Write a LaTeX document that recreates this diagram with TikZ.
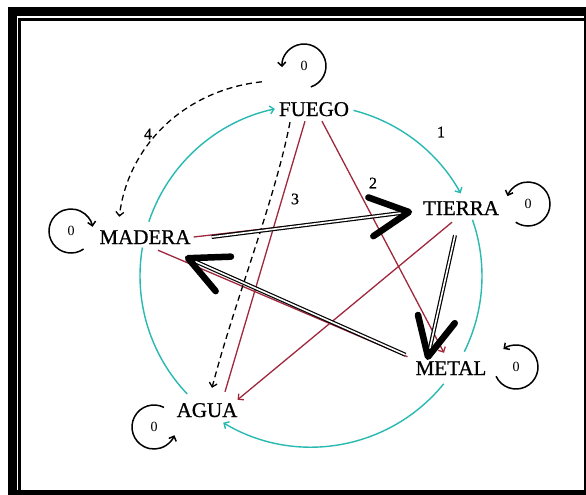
\documentclass[tikz,border=0pt]{standalone}
\usepackage{fontspec}
\setmainfont{Liberation Serif}
\newfontfamily\elemfont{Liberation Serif}[FakeBold=0.8]
\usetikzlibrary{arrows.meta,calc}
\definecolor{cy}{RGB}{40,185,178}
\definecolor{rd}{RGB}{160,40,60}
\begin{document}
\begin{tikzpicture}[x=1pt,y=-1pt,
  elem/.style={font=\elemfont\fontsize{21}{21}\selectfont, inner sep=0pt, text height=14pt, text depth=0pt},
  num/.style={font=\elemfont\fontsize{16}{16}\selectfont, inner sep=0pt},
  zero/.style={font=\fontsize{14}{14}\selectfont, inner sep=0pt},
  tip/.style={-{Straight Barb[length=4pt,width=8pt]}},
  cyl/.style={draw=cy, line width=1.4pt},
  redl/.style={draw=rd, line width=1.3pt},
  dsh/.style={draw=black, line width=1.3pt, dash pattern=on 6pt off 4pt},
  dbl/.style={draw=black, double=white, double distance=1.6pt, line width=1.2pt},
  chev/.style={draw=black, line width=6.5pt, line cap=round, line join=round},
  loopl/.style={draw=black, line width=1.5pt},
]
\useasboundingbox (0,0) rectangle (586,495);
% frame
\fill[black] (8,7) rectangle (586,495);
\fill[white] (17,16) rectangle (584,490);
\fill[black] (18.3,18.3) rectangle (584,490);
\fill[white] (20.7,20.7) rectangle (584,490);

% element nodes
\node[elem] (fuego) at (314,109) {FUEGO};
\node[elem] (tierra) at (461,208) {TIERRA};
\node[elem] (madera) at (145,237) {MADERA};
\node[elem] (metal) at (451,368) {METAL};
\node[elem] (agua) at (207,410) {AGUA};
\coordinate (C) at (311,276);

% loop labels
\node[zero] (l0f) at (304,66) {0};
\node[zero] (l0t) at (528,204) {0};
\node[zero] (l0m) at (71,231) {0};
\node[zero] (l0e) at (516,367) {0};
\node[zero] (l0a) at (154,427) {0};

% number labels
\node[num] (n1) at (441,132) {1};
\node[num] (n2) at (373,183) {2};
\node[num] (n3) at (295,199) {3};
\node[num] (n4) at (148,134) {4};

% cyan generating circle
\draw[cyl,tip] ([shift={(198.5:171)}]C) arc[start angle=198.5,end angle=257.8,radius=171];
\draw[cyl,tip] ([shift={(-75.6:171)}]C) arc[start angle=-75.6,end angle=-28.9,radius=171];
\draw[cyl] ([shift={(-19.2:171)}]C) arc[start angle=-19.2,end angle=26.3,radius=171];
\draw[cyl,tip] ([shift={(39.1:171)}]C) arc[start angle=39.1,end angle=120.9,radius=171];
\draw[cyl] ([shift={(136.4:171)}]C) arc[start angle=136.4,end angle=189.6,radius=171];

% red pentagram
\draw[redl,tip] ([xshift=8pt,yshift=-5pt]fuego.south) -- ([xshift=-7pt,yshift=8pt]metal.north);
\draw[redl] ([xshift=-9pt,yshift=-5pt]fuego.south) -- ([xshift=18pt,yshift=11pt]agua.north);
\draw[redl,tip] ([xshift=3pt]madera.east) -- ([xshift=-12pt,yshift=-4pt]tierra.west);
\draw[redl,tip] ([xshift=-9pt,yshift=-7pt]tierra.south) -- ([yshift=3pt]agua.north east);
\draw[redl] ([xshift=-8pt,yshift=4pt]metal.north west) -- ([xshift=13pt,yshift=-6pt]madera.south);

% dashed arrows
\draw[dsh,tip] ([xshift=-17pt,yshift=20pt]fuego.north west) .. controls (185,90) and (128,145) .. ([xshift=20pt,yshift=13pt]madera.north west);
\draw[dsh,tip] ([xshift=-24pt,yshift=-6pt]fuego.south) .. controls (275,200) and (235,300) .. ([xshift=5pt,yshift=15pt]agua.north);

% self loops
\draw[loopl,tip] ([shift={(72:22)}]l0f.center) arc[start angle=72,end angle=-183,radius=22];
\draw[loopl,tip] ([shift={(124:22)}]l0t.center) arc[start angle=124,end angle=-159,radius=22];
\draw[loopl,tip] ([shift={(155:22)}]l0e.center) arc[start angle=155,end angle=-125,radius=22];
\draw[loopl,tip] ([shift={(55:22)}]l0m.center) arc[start angle=55,end angle=349,radius=22];
\draw[loopl,tip] ([shift={(-63:22)}]l0a.center) arc[start angle=-63,end angle=-338,radius=22];

% black double arrows
\coordinate (aS) at ([xshift=21pt]madera.east);
\coordinate (aT) at ([xshift=-14pt,yshift=-4pt]tierra.west);
\coordinate (bS) at ([xshift=-6pt,yshift=-20pt]tierra.south);
\coordinate (bT) at ([xshift=-23pt,yshift=4pt]metal.north);
\coordinate (cS) at ([xshift=-10pt,yshift=6pt]metal.north west);
\coordinate (cT) at ([xshift=43pt,yshift=-14pt]madera.south);
\draw[dbl] (aS) -- (aT);
\draw[dbl] (bS) -- (bT);
\draw[dbl] (cS) -- (cT);
\draw[chev] ($(aT)!43pt!27:(aS)$) -- (aT) -- ($(aT)!43pt!-27:(aS)$);
\draw[chev] ($(bT)!43pt!26:(bS)$) -- (bT) -- ($(bT)!43pt!-26:(bS)$);
\draw[chev] ($(cT)!43pt!26:(cS)$) -- (cT) -- ($(cT)!43pt!-26:(cS)$);
\end{tikzpicture}
\end{document}
